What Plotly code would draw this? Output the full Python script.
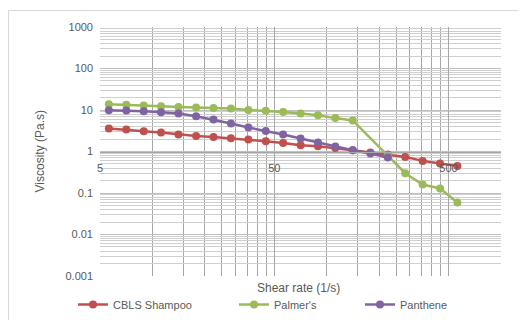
import plotly.graph_objects as go
import math

# Data
shear_rate = [5.62, 7.08, 8.91, 11.2, 14.1, 17.8, 22.4, 28.2, 35.5, 44.7,
              56.2, 70.8, 89.1, 112, 141, 178, 224, 282, 355, 447, 562]
cbls = [3.58, 3.38, 3.08, 2.86, 2.56, 2.37, 2.24, 2.09, 1.94, 1.77,
        1.61, 1.42, 1.34, 1.22, 1.07, 0.946, 0.847, 0.741, 0.594, 0.514, 0.45]
palmers_x = [5.62, 7.08, 8.91, 11.2, 14.1, 17.8, 22.4, 28.2, 35.5, 44.7,
             56.2, 70.8, 89.1, 112, 141, 224, 282, 355, 447, 562]
palmers = [13.7, 13.4, 12.8, 12.3, 11.8, 11.5, 11.2, 10.8, 10.0, 9.6,
           9.0, 8.2, 7.5, 6.4, 5.6, 0.8, 0.30, 0.16, 0.129, 0.059]
panthene_x = shear_rate[:17]
panthene = [9.86, 9.7, 9.33, 8.83, 8.22, 7.08, 5.9, 4.72, 3.78, 3.13,
            2.56, 2.05, 1.65, 1.32, 1.07, 0.895, 0.717]

x_tick_vals = [5, 50, 500]
x_tick_text = ["5", "50", "500"]
y_tick_vals = [0.001, 0.01, 0.1, 1, 10, 100, 1000]
y_tick_text = ["0.001", "0.01", "0.1", "1", "10", "100", "1000"]

FONT = "Liberation Sans"
TXT = "#595959"

# gridline positions (Excel-style log minor units)
x_grid = []
for base in [5, 50, 500]:
    for m in range(1, 10):
        x_grid.append(base * m)
x_grid.append(1000)
y_grid = []
for e in range(-3, 3):
    for m in range(2, 10):
        y_grid.append(m * 10 ** e)

fig = go.Figure()
series = [
    ("CBLS Shampoo", shear_rate, cbls, "#C0504D", "legend"),
    ("Palmer's", palmers_x, palmers, "#9BBB59", "legend2"),
    ("Panthene", panthene_x, panthene, "#8064A2", "legend3"),
]
for name, xs, ys, col, lg in series:
    fig.add_trace(go.Scatter(
        x=xs, y=ys, name=name, mode="lines+markers",
        line=dict(color=col, width=2.5),
        marker=dict(color=col, size=8),
        legend=lg,
    ))

# The page body has an 8px default margin, so the figure is offset by 8px.
OFF = 8
PAGE_W, PAGE_H = 526, 320
PL, PR, PT, PB = 100, 501, 27, 276  # plot area in page pixels
W, H = PAGE_W - OFF, PAGE_H - OFF
L, T = PL - OFF, PT - OFF
R, B = PAGE_W - PR, PAGE_H - PB
pw, ph = PR - PL, PB - PT


def px_x(p):
    return (p - PL) / pw


def px_y(p):
    return (PB - p) / ph


leg_common = dict(orientation="h", font=dict(family=FONT, size=11, color=TXT),
                  bgcolor="rgba(0,0,0,0)", borderwidth=0,
                  xanchor="left", yanchor="middle", itemwidth=30)

fig.update_layout(
    width=W, height=H,
    margin=dict(l=L, r=R, t=T, b=B, autoexpand=False),
    paper_bgcolor="white", plot_bgcolor="white",
    font=dict(family=FONT, size=11, color=TXT),
    showlegend=True,
    legend=dict(x=px_x(73), y=px_y(304.5), **leg_common),
    legend2=dict(x=px_x(234), y=px_y(304.5), **leg_common),
    legend3=dict(x=px_x(360), y=px_y(304.5), **leg_common),
    xaxis=dict(
        type="log", range=[math.log10(5), math.log10(1000)],
        tickvals=x_tick_vals, ticktext=x_tick_text,
        showgrid=True, gridcolor="#a6a6a6", gridwidth=1,
        minor=dict(tickvals=x_grid, showgrid=True, gridcolor="#a6a6a6", gridwidth=1),
        anchor="free", position=0.5,
        showline=True, linecolor="#a6a6a6", linewidth=1,
        ticks="", ticklabelstandoff=6,
        tickfont=dict(family=FONT, size=11, color=TXT),
        zeroline=False,
    ),
    yaxis=dict(
        type="log", range=[-3, 3],
        tickvals=y_tick_vals, ticktext=y_tick_text,
        showgrid=True, gridcolor="#bfbfbf", gridwidth=1,
        minor=dict(tickvals=y_grid, showgrid=True, gridcolor="#cfcfcf", gridwidth=1),
        showline=False, ticks="", ticklabelstandoff=6,
        tickfont=dict(family=FONT, size=11, color=TXT),
        zeroline=False,
    ),
    annotations=[
        dict(text="Shear rate (1/s)", xref="paper", yref="paper",
             x=px_x(298), y=px_y(288), showarrow=False,
             font=dict(family=FONT, size=12, color=TXT),
             xanchor="center", yanchor="middle"),
        dict(text="Viscosity (Pa.s)", xref="paper", yref="paper",
             x=px_x(39), y=0.5, showarrow=False, textangle=-90,
             font=dict(family=FONT, size=12, color=TXT),
             xanchor="center", yanchor="middle"),
    ],
    shapes=[
        dict(type="rect", xref="paper", yref="paper",
             x0=px_x(8.5), y0=px_y(340), x1=px_x(560), y1=px_y(10.5),
             line=dict(color="#d9d9d9", width=1), fillcolor="rgba(0,0,0,0)",
             layer="below"),
    ],
)

fig.write_html("out.html")
